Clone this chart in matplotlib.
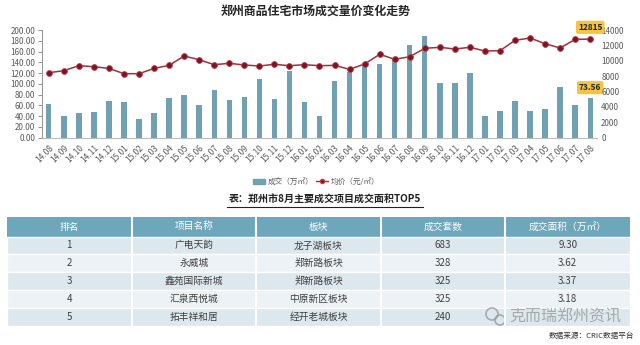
import matplotlib.pyplot as plt
import numpy as np
from matplotlib.patches import Rectangle
from matplotlib.lines import Line2D

plt.rcParams['font.family'] = ['Noto Sans CJK SC', 'DejaVu Sans']

# chart data
months = ['14.08', '14.09', '14.10', '14.11', '14.12',
          '15.01', '15.02', '15.03', '15.04', '15.05', '15.06', '15.07', '15.08', '15.09', '15.10', '15.11', '15.12',
          '16.01', '16.02', '16.03', '16.04', '16.05', '16.06', '16.07', '16.08', '16.09', '16.10', '16.11', '16.12',
          '17.01', '17.02', '17.03', '17.04', '17.05', '17.06', '17.07', '17.08']
volume = [62, 41, 46, 48, 69, 66, 35, 45, 74, 79, 61, 88, 70, 76, 109, 72, 123,
          66, 41, 106, 122, 138, 136, 147, 172, 189, 102, 101, 121,
          41, 50, 68, 49, 53, 94, 61, 73.56]
price = [8450, 8710, 9360, 9230, 9010, 8320, 8320, 9010, 9400, 10620, 10140, 9490, 9670, 9450, 9320, 9540, 9360,
         9490, 9360, 9400, 8890, 9580, 10840, 10190, 10530, 11620, 11750, 11530, 11750,
         11270, 11310, 12660, 12960, 12220, 11660, 12790, 12815]

# table data
table_head = ['排名', '项目名称', '板块', '成交套数', '成交面积（万㎡）']
rank = ['1', '2', '3', '4', '5']
project = ['广电天韵', '永威城', '鑫苑国际新城', '汇泉西悦城', '拓丰祥和居']
block = ['龙子湖板块', '郑新路板块', '郑新路板块', '中原新区板块', '经开老城板块']
units = ['683', '328', '325', '325', '240']
area = ['9.30', '3.62', '3.37', '3.18', '']

W, H = 640, 345
fig = plt.figure(figsize=(6.4, 3.45), dpi=100)

bar_c = '#6fa1b2'
line_c = '#a0303a'
grey = '#595959'

ax = fig.add_axes([42 / W, 1 - 137.7 / H, 555 / W, 107.7 / H])
x = np.arange(len(months))
ax.bar(x, volume, width=0.36, color=bar_c, zorder=2)
ax.set_ylim(0, 200)
ax.set_yticks(np.arange(0, 201, 20))
ax.set_yticklabels(['%.2f' % v for v in np.arange(0, 201, 20)])
ax.set_xlim(-0.45, len(months) - 0.55)
ax.set_xticks(x)
ax.set_xticklabels(months, rotation=45, ha='right', rotation_mode='anchor')
ax.tick_params(axis='x', length=0, pad=4, labelsize=6, colors=grey)
ax.tick_params(axis='y', length=3, pad=2, labelsize=5.8, colors=grey, color='#999999')
for s in ['top', 'right']:
    ax.spines[s].set_visible(False)
ax.spines['left'].set_color('#999999')
ax.spines['bottom'].set_color('#bbbbbb')

ax2 = ax.twinx()
ax2.plot(x, price, color=line_c, lw=1.1, marker='o', ms=4.2,
         mfc='#7b1523', mec='#b8404c', mew=0.6, zorder=3)
ax2.set_ylim(0, 14000)
ax2.set_yticks(np.arange(0, 14001, 2000))
ax2.tick_params(axis='y', length=0, pad=3, labelsize=5.8, colors=grey)
for s in ['top', 'right', 'left', 'bottom']:
    ax2.spines[s].set_visible(False)

ax2.annotate('12815', (x[-1], price[-1]), xytext=(0, 8.5), textcoords='offset points',
             ha='center', va='center', fontsize=6, fontweight='bold', color='#222222',
             bbox=dict(boxstyle='round,pad=0.25', fc='#f5c542', ec='none'), zorder=5)
ax.annotate('73.56', (x[-1], volume[-1]), xytext=(0, 7.5), textcoords='offset points',
            ha='center', va='center', fontsize=6, fontweight='bold', color='#222222',
            bbox=dict(boxstyle='round,pad=0.25', fc='#f5c542', ec='none'), zorder=5,
            annotation_clip=False)

handles = [Rectangle((0, 0), 1, 1, color=bar_c),
           Line2D([], [], color=line_c, lw=1, marker='o', ms=3, mfc='#7b1523', mec='#b8404c')]
fig.legend(handles, ['成交（万㎡）', '均价（元/㎡）'], loc='center', bbox_to_anchor=(316 / W, 1 - 182 / H),
           ncol=2, frameon=False, fontsize=5.5, handlelength=1.6, handleheight=0.6,
           columnspacing=0.4, handletextpad=0.3, labelcolor=grey)

# overlay in pixel coordinates for titles and table
ov = fig.add_axes([0, 0, 1, 1])
ov.set_xlim(0, W)
ov.set_ylim(H, 0)
ov.axis('off')
ov.patch.set_visible(False)

ov.text(316, 11, '郑州商品住宅市场成交量价变化走势', ha='center', va='center',
        fontsize=8.6, fontweight='bold', color='#262626')

ov.text(325, 199, '表：郑州市8月主要成交项目成交面积TOP5', ha='center', va='center',
        fontsize=7.2, fontweight='bold', color='#222222')
ov.plot([227, 423], [207, 207], color='#222222', lw=0.8)

tx0, tx1 = 7, 630
col_w = (tx1 - tx0) / 5
head_top, head_h, row_h = 216.5, 20, 17.8
ov.add_patch(Rectangle((tx0, head_top), tx1 - tx0, head_h, fc='#6ea7bb', ec='none'))
for j, h in enumerate(table_head):
    ov.text(tx0 + col_w * (j + 0.5), head_top + head_h / 2, h, ha='center', va='center',
            fontsize=7, color='white')
rows = list(zip(rank, project, block, units, area))
row_cols = ['#dce7ee', '#edf2f6']
for i, r in enumerate(rows):
    y0 = head_top + head_h + i * row_h
    ov.add_patch(Rectangle((tx0, y0), tx1 - tx0, row_h, fc=row_cols[i % 2], ec='white', lw=1))
    for j, v in enumerate(r):
        ov.text(tx0 + col_w * (j + 0.5), y0 + row_h / 2, v, ha='center', va='center',
                fontsize=7, color='#404040')
for j in range(1, 5):
    ov.plot([tx0 + col_w * j] * 2, [head_top, head_top + head_h + 5 * row_h], color='white', lw=1.5)

# watermark
ov.text(565, 317, '克而瑞郑州资讯', ha='center', va='center', fontsize=11.5,
        color='#9a9a9a', alpha=0.8)
ov.add_patch(plt.Circle((492, 314), 6, fc='none', ec='#9a9a9a', lw=1.2, alpha=0.8))
ov.add_patch(plt.Circle((500, 320), 5, fc='none', ec='#9a9a9a', lw=1.2, alpha=0.8))
ov.text(634, 336, '数据来源：CRIC数据平台', ha='right', va='center', fontsize=5.5, color='#333333')

fig.savefig('out.png', dpi=100)
